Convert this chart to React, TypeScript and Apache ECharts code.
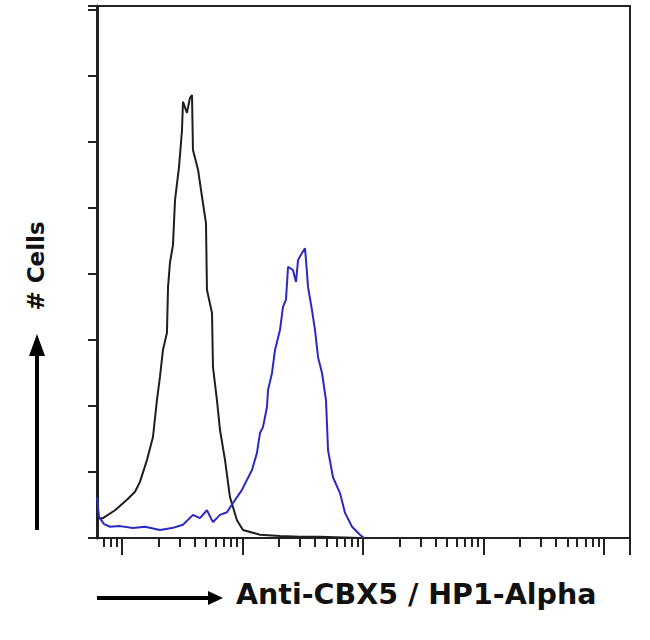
import React, { useEffect, useRef } from "react";
import * as echarts from "echarts";

// log10 fluorescence intensity (x) and cell counts (y, arbitrary units 0-8)
const isotypeX = [0.793, 0.801, 0.842, 0.942, 1.041, 1.108, 1.149, 1.207, 1.257, 1.29, 1.315, 1.34, 1.373, 1.382, 1.398, 1.423, 1.44, 1.473, 1.498, 1.506, 1.539, 1.564, 1.581, 1.589, 1.631, 1.664, 1.697, 1.705, 1.747, 1.755, 1.788, 1.813, 1.855, 1.896, 1.954, 2.004, 2.145, 2.311, 2.477, 2.643, 2.975];
const isotypeY = [2.82, 0.3, 0.3, 0.42, 0.58, 0.7, 0.85, 1.18, 1.53, 2.09, 2.44, 2.85, 3.11, 3.8, 4.17, 4.44, 5.12, 5.62, 6.18, 6.61, 6.44, 6.67, 6.71, 5.88, 5.58, 5.17, 4.77, 3.76, 3.41, 2.59, 2.09, 1.64, 1.18, 0.62, 0.27, 0.12, 0.05, 0.03, 0.02, 0.02, 0];

const antibodyX = [0.793, 0.809, 0.851, 0.9, 0.983, 1.091, 1.191, 1.315, 1.415, 1.506, 1.589, 1.647, 1.705, 1.755, 1.813, 1.871, 1.921, 1.996, 2.037, 2.079, 2.12, 2.145, 2.17, 2.203, 2.212, 2.245, 2.27, 2.311, 2.336, 2.361, 2.378, 2.419, 2.444, 2.461, 2.494, 2.519, 2.527, 2.544, 2.577, 2.602, 2.627, 2.66, 2.693, 2.71, 2.751, 2.809, 2.851, 2.909, 2.975, 3.008];
const antibodyY = [0.62, 0.32, 0.21, 0.17, 0.18, 0.15, 0.17, 0.12, 0.15, 0.2, 0.35, 0.3, 0.42, 0.24, 0.35, 0.39, 0.53, 0.73, 0.88, 1.03, 1.29, 1.59, 1.68, 1.98, 2.24, 2.5, 2.85, 3.15, 3.5, 3.61, 4.11, 4.06, 3.88, 4.21, 4.32, 4.39, 4.21, 3.8, 3.45, 3.15, 2.74, 2.5, 2.09, 1.33, 0.92, 0.68, 0.38, 0.17, 0.05, 0];

const decades = [1, 2, 3, 4, 5];
const minorMultipliers = [2, 3, 4, 5, 6, 7, 8, 9];
const xMin = 0.7925;
const xMax = 5.216;
const yMax = 8.06;

const xTitle = "Anti-CBX5 / HP1-Alpha";
const yTitle = "# Cells";

export default function App() {
  const ref = useRef<HTMLDivElement>(null);
  useEffect(() => {
    if (!ref.current) return;
    const chart = echarts.init(ref.current, null, { renderer: "svg" });
    const minorTicks: number[] = [];
    for (let d = 0; d <= 5; d++) {
      for (const m of minorMultipliers) {
        const v = d + Math.log10(m);
        if (v > xMin && v < xMax) minorTicks.push(v);
      }
    }
    const majorTicks = [...decades, xMax];
    const toPairs = (xs: number[], ys: number[]) => xs.map((x, i) => [x, ys[i]]);
    chart.setOption({
      animation: false,
      grid: {
        left: 97,
        right: 20,
        top: 6,
        bottom: 102,
      },
      xAxis: [
        {
          type: "value",
          min: xMin,
          max: xMax,
          axisLine: { show: true, onZero: false, lineStyle: { color: "#222", width: 2 } },
          axisTick: {
            show: true,
            length: 17,
            lineStyle: { color: "#222", width: 2 },
            customValues: majorTicks,
          },
          axisLabel: { show: false },
          splitLine: { show: false },
        },
        {
          type: "value",
          min: xMin,
          max: xMax,
          position: "bottom",
          axisLine: { show: false, onZero: false },
          axisTick: {
            show: true,
            length: 9,
            lineStyle: { color: "#222", width: 2 },
            customValues: minorTicks,
          },
          axisLabel: { show: false },
          splitLine: { show: false },
        },
      ],
      yAxis: [
        {
          type: "value",
          min: 0,
          max: yMax,
          interval: 1,
          axisLine: { show: true, onZero: false, lineStyle: { color: "#222", width: 3 } },
          axisTick: { show: true, length: 9, lineStyle: { color: "#222", width: 2 } },
          axisLabel: { show: false },
          splitLine: { show: false },
        },
        {
          type: "value",
          min: 0,
          max: yMax,
          position: "right",
          axisLine: { show: true, onZero: false, lineStyle: { color: "#222", width: 2 } },
          axisTick: { show: false },
          axisLabel: { show: false },
          splitLine: { show: false },
        },
      ],
      series: [
        {
          type: "line",
          name: "Isotype",
          data: toPairs(isotypeX, isotypeY),
          showSymbol: false,
          lineStyle: { color: "#1e1e1e", width: 2 },
          z: 3,
        },
        {
          type: "line",
          name: "Anti-CBX5",
          data: toPairs(antibodyX, antibodyY),
          showSymbol: false,
          lineStyle: { color: "#2a2ac2", width: 2 },
          z: 4,
        },
      ],
      graphic: [
        {
          type: "rect",
          z: 100,
          shape: { x: 96, y: 5, width: 535, height: 2 },
          style: { fill: "#222" },
        },
        {
          type: "line",
          shape: { x1: 37, y1: 530, x2: 37, y2: 352 },
          style: { stroke: "#000", lineWidth: 4 },
        },
        {
          type: "polygon",
          shape: { points: [[37, 334], [29, 356], [45, 356]] },
          style: { fill: "#000" },
        },
        {
          type: "text",
          x: 36,
          y: 266,
          rotation: Math.PI / 2,
          style: {
            text: yTitle,
            font: "bold 23px 'DejaVu Sans'",
            fill: "#111",
            align: "center",
            verticalAlign: "middle",
          },
        },
        {
          type: "line",
          shape: { x1: 97, y1: 598, x2: 212, y2: 598 },
          style: { stroke: "#000", lineWidth: 4 },
        },
        {
          type: "polygon",
          shape: { points: [[223, 598], [208, 591], [208, 605]] },
          style: { fill: "#000" },
        },
        {
          type: "text",
          x: 236,
          y: 594,
          style: {
            text: xTitle,
            font: "bold 28.5px 'DejaVu Sans'",
            fill: "#111",
            align: "left",
            verticalAlign: "middle",
          },
        },
      ],
    });
    return () => chart.dispose();
  }, []);
  return (
    <div
      ref={ref}
      style={{ position: "absolute", left: 0, top: 0, width: 650, height: 640 }}
    />
  );
}
